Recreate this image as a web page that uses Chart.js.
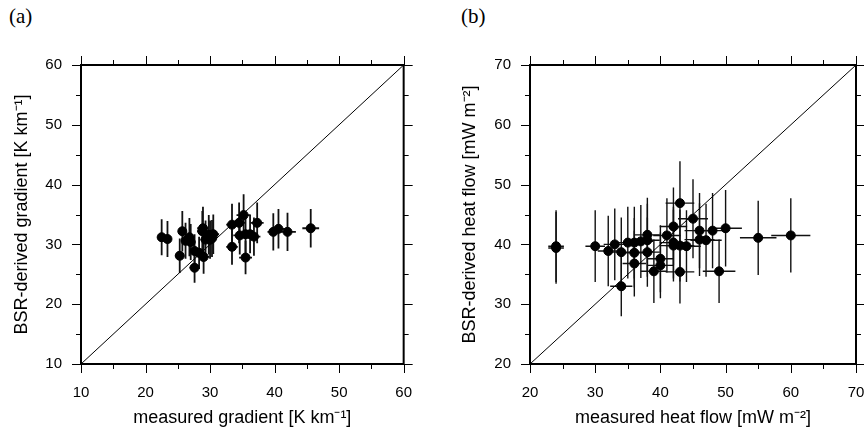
<!DOCTYPE html>
<html>
<head>
<meta charset="utf-8">
<script src="https://cdn.jsdelivr.net/npm/chart.js@4.4.1/dist/chart.umd.min.js"></script>
<style>
  body { margin: 0; background: #fff; overflow: hidden; width: 864px; height: 429px; position: relative; }
  canvas { position: absolute; top: 0; }
  .tag { position: absolute; top: 4px; font-family: "Liberation Serif", serif; font-size: 21px; color: #000; }
</style>
</head>
<body>
<div class="tag" style="left:9px">(a)</div>
<div class="tag" style="left:461px">(b)</div>
<canvas id="gradChart" width="432" height="429" style="left:0"></canvas>
<canvas id="heatChart" width="460" height="429" style="left:432px"></canvas>
<script>
// (a) geothermal gradient, K/km
const gradMeasured = [22.5, 23.4, 25.3, 25.7, 26.2, 26.8, 27.0, 27.6, 27.6, 28.3, 29.0, 28.9, 28.8, 29.3, 29.8, 30.0,
  30.5, 30.3, 33.4, 33.4, 34.5, 34.6, 35.2, 35.5, 35.5, 36.2, 36.8, 37.3, 39.8, 40.6, 42.0, 45.6];
const gradBsr = [31.2, 30.9, 28.1, 32.2, 30.6, 31.2, 30.4, 26.1, 28.9, 28.6, 27.9, 32.7, 32.2, 30.8, 31.6, 30.8,
  31.7, 31.0, 33.3, 29.6, 33.6, 31.5, 34.9, 27.8, 31.7, 31.7, 31.3, 33.6, 32.1, 32.6, 32.1, 32.7];
const gradMeasuredErr = [0.6, 0.6, 0.7, 0.6, 0.7, 0.8, 0.7, 0.8, 0.8, 0.9, 0.9, 0.9, 0.8, 0.8, 0.9, 0.9,
  0.9, 0.8, 0.9, 0.9, 1.0, 1.0, 1.1, 1.0, 1.0, 1.0, 1.0, 1.0, 0.9, 1.0, 1.3, 1.3];
const gradBsrErr = [3.0, 3.0, 2.9, 3.4, 3.0, 3.2, 3.0, 2.5, 2.8, 2.7, 2.8, 3.6, 3.4, 3.2, 3.3, 3.2,
  3.3, 3.1, 3.5, 3.0, 3.4, 3.2, 3.5, 2.8, 3.2, 3.2, 3.2, 3.4, 3.1, 3.3, 3.2, 3.2];
const gradRange = [10, 60];

// (b) heat flow, mW/m2
const heatMeasured = [24, 24, 30, 32, 33, 34, 34, 35, 36, 36, 36, 37, 38, 38, 38, 39, 40, 40,
  41, 42, 42, 42, 43, 43, 43, 44, 45, 46, 46, 47, 48, 49, 50, 55, 60];
const heatBsr = [39.7, 39.4, 39.7, 38.9, 40.0, 38.7, 33.0, 40.3, 40.3, 38.6, 36.8, 40.5, 41.6, 40.7, 38.7, 35.5, 37.6, 36.5,
  41.5, 43.0, 40.3, 39.8, 46.9, 39.8, 35.4, 39.7, 44.3, 42.3, 40.8, 40.7, 42.3, 35.5, 42.7, 41.1, 41.5];
const heatMeasuredErr = [1.2, 1.2, 1.5, 1.6, 1.7, 1.7, 1.7, 1.8, 1.8, 1.8, 1.8, 1.9, 1.9, 1.9, 1.9, 2.0, 2.0, 2.0,
  2.1, 2.1, 2.1, 2.1, 2.2, 2.2, 2.2, 2.2, 2.3, 2.3, 2.3, 2.4, 2.4, 2.5, 2.5, 2.8, 3.0];
const heatBsrErr = [6.0, 6.0, 6.0, 5.9, 6.0, 5.8, 5.0, 6.0, 6.0, 5.8, 5.5, 6.1, 6.2, 6.1, 5.8, 5.3, 5.6, 5.5,
  6.2, 6.5, 6.0, 6.0, 7.0, 6.0, 5.3, 6.0, 6.6, 6.3, 6.1, 6.1, 6.3, 5.3, 6.4, 6.2, 6.2];
const heatRange = [20, 70];

const tickFont = { family: '"Liberation Sans", Arial, sans-serif', size: 15 };
const titleFont = { family: '"Liberation Sans", Arial, sans-serif', size: 18 };

// error bars drawn under the markers
const errorBars = {
  id: 'errorBars',
  beforeDatasetsDraw(chart, args, opts) {
    const { ctx, scales: { x, y } } = chart;
    ctx.save();
    ctx.strokeStyle = '#111';
    ctx.lineWidth = opts.width;
    opts.xs.forEach((xv, i) => {
      const yv = opts.ys[i];
      const px = x.getPixelForValue(xv), py = y.getPixelForValue(yv);
      ctx.beginPath();
      ctx.moveTo(x.getPixelForValue(xv - opts.xErr[i]), py);
      ctx.lineTo(x.getPixelForValue(xv + opts.xErr[i]), py);
      ctx.moveTo(px, y.getPixelForValue(yv - opts.yErr[i]));
      ctx.lineTo(px, y.getPixelForValue(yv + opts.yErr[i]));
      ctx.stroke();
    });
    ctx.restore();
  }
};

// box frame with major/minor ticks on all four sides
const frame = {
  id: 'frame',
  afterDraw(chart) {
    const { ctx, chartArea: a, scales: { x, y } } = chart;
    ctx.save();
    ctx.strokeStyle = '#000';
    ctx.lineWidth = 1;
    ctx.beginPath();
    for (let v = x.min; v <= x.max; v += 5) {
      const p = Math.round(x.getPixelForValue(v)) + 0.5;
      const len = v % 10 === 0 ? 9 : 5;
      ctx.moveTo(p, a.bottom); ctx.lineTo(p, a.bottom + len);
      ctx.moveTo(p, a.top); ctx.lineTo(p, a.top - len);
    }
    for (let v = y.min; v <= y.max; v += 5) {
      const p = Math.round(y.getPixelForValue(v)) + 0.5;
      const len = v % 10 === 0 ? 9 : 5;
      ctx.moveTo(a.left, p); ctx.lineTo(a.left - len, p);
      ctx.moveTo(a.right, p); ctx.lineTo(a.right + len, p);
    }
    ctx.stroke();
    ctx.lineWidth = 2;
    ctx.strokeRect(a.left, a.top, a.right - a.left, a.bottom - a.top);
    ctx.restore();
  }
};

function makePanel(id, opts) {
  const points = opts.xs.map((v, i) => ({ x: v, y: opts.ys[i] }));
  const diagonal = [{ x: opts.range[0], y: opts.range[0] }, { x: opts.range[1], y: opts.range[1] }];
  return new Chart(document.getElementById(id), {
    type: 'scatter',
    data: {
      datasets: [
        { data: points, backgroundColor: '#000', borderColor: '#000', pointRadius: 4.5, order: 0 },
        { data: diagonal, showLine: true, borderColor: '#000', borderWidth: 1, pointRadius: 0, order: 1 }
      ]
    },
    plugins: [errorBars, frame],
    options: {
      responsive: false,
      animation: false,
      layout: { padding: { left: 0, top: 65, right: opts.padRight, bottom: 0 } },
      plugins: {
        legend: { display: false },
        tooltip: { enabled: false },
        errorBars: { xs: opts.xs, ys: opts.ys, xErr: opts.xErr, yErr: opts.yErr, width: opts.barWidth }
      },
      scales: {
        x: {
          type: 'linear', min: opts.range[0], max: opts.range[1],
          grid: { display: false, drawTicks: false }, border: { display: false },
          ticks: { stepSize: 10, padding: 20, color: '#000', font: tickFont, maxRotation: 0 },
          title: { display: true, text: opts.xTitle, color: '#000', font: titleFont, padding: { top: 0, bottom: 0 } },
          afterFit: s => { s.height = 65; }
        },
        y: {
          type: 'linear', min: opts.range[0], max: opts.range[1],
          grid: { display: false, drawTicks: false }, border: { display: false },
          ticks: { stepSize: 10, padding: 19, color: '#000', font: tickFont },
          title: { display: true, text: opts.yTitle, color: '#000', font: titleFont, padding: { top: opts.yTitlePad, bottom: 0 } },
          afterFit: s => { s.width = opts.yWidth; }
        }
      }
    }
  });
}

makePanel('gradChart', {
  xs: gradMeasured, ys: gradBsr, xErr: gradMeasuredErr, yErr: gradBsrErr, range: gradRange,
  xTitle: 'measured gradient [K km⁻¹]', yTitle: 'BSR-derived gradient [K km⁻¹]',
  yWidth: 81, padRight: 25, yTitlePad: 11, barWidth: 1.8
});
makePanel('heatChart', {
  xs: heatMeasured, ys: heatBsr, xErr: heatMeasuredErr, yErr: heatBsrErr, range: heatRange,
  xTitle: 'measured heat flow [mW m⁻²]', yTitle: 'BSR-derived heat flow [mW m⁻²]',
  yWidth: 98, padRight: 36, yTitlePad: 27, barWidth: 1.4
});
</script>
</body>
</html>
